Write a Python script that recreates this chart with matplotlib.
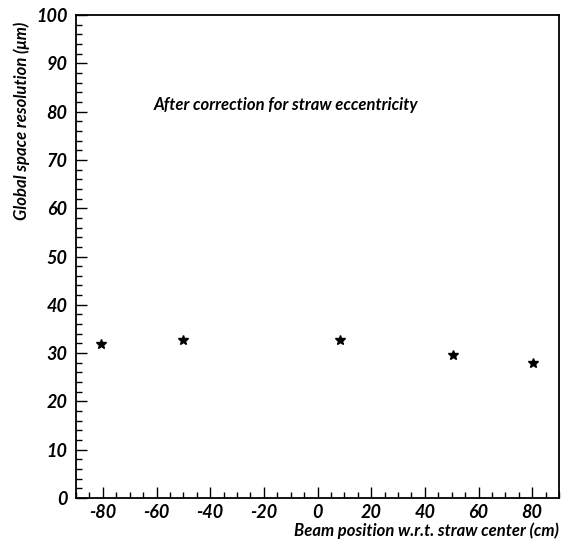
import matplotlib
matplotlib.use("Agg")
import matplotlib.pyplot as plt
import matplotlib.ticker as mticker

# Beam position (cm) and global space resolution (um)
beam_pos = [-80.5, -50.2, 8.2, 50.5, 80.3]
resolution = [31.9, 32.7, 32.7, 29.6, 27.9]

plt.rcParams["font.family"] = ["Lato", "DejaVu Sans"]
plt.rcParams["font.style"] = "italic"
plt.rcParams["axes.unicode_minus"] = False

fig = plt.figure(figsize=(5.64, 5.42), dpi=100)
ax = fig.add_axes([76 / 564, 44 / 542, 483 / 564, 483 / 542])

ax.plot(beam_pos, resolution, linestyle="none", marker="*", color="black",
        markersize=7)

ax.set_xlim(-90, 90)
ax.set_ylim(0, 100)

ax.xaxis.set_major_locator(mticker.MultipleLocator(20))
ax.xaxis.set_minor_locator(mticker.MultipleLocator(5))
ax.yaxis.set_major_locator(mticker.MultipleLocator(10))
ax.yaxis.set_minor_locator(mticker.MultipleLocator(2))

ax.tick_params(which="both", direction="in", top=False, right=False,
               labelsize=13, width=1.0)
ax.tick_params(which="major", length=8)
ax.tick_params(axis="x", which="major", pad=4)
ax.tick_params(axis="y", which="major", pad=6)
ax.tick_params(which="minor", length=4)
for lbl in ax.get_xticklabels() + ax.get_yticklabels():
    lbl.set_fontstyle("italic")
    lbl.set_fontweight("bold")

for s in ax.spines.values():
    s.set_linewidth(1.3)

ax.set_xlabel("Beam position w.r.t. straw center (cm)", fontsize=12,
              fontweight="bold", loc="right", labelpad=1)
ax.set_ylabel("Global space resolution (\u03bcm)", fontsize=12,
              fontweight="bold", loc="top")
ax.yaxis.set_label_coords(-0.095, 0.985)

ax.text(-61, 81.4, "After correction for straw eccentricity", fontsize=12,
        fontweight="bold", va="center", ha="left")

fig.savefig("out.png", dpi=100)
